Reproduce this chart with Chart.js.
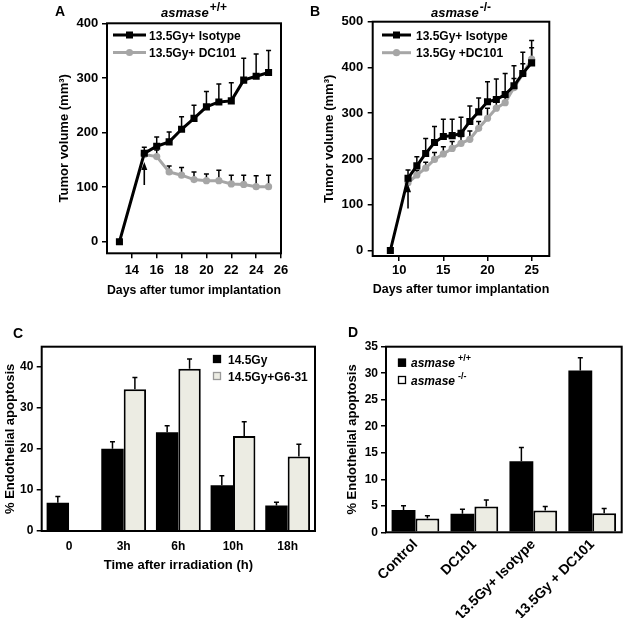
<!DOCTYPE html>
<html lang="en">
<head>
    <meta charset="UTF-8">
    <title>asmase - tumor volume and endothelial apoptosis</title>
    <script src="https://cdn.jsdelivr.net/npm/chart.js"></script>
    <style>
        body { margin: 0; background: #fff; }
        #wrap { position: relative; width: 625px; height: 618px; overflow: hidden; }
        .panel { position: absolute; }
    </style>
</head>
<body>
<div id="wrap">
    <div class="panel" style="left:0;top:0;width:310px;height:300px"><canvas id="chartA"></canvas></div>
    <div class="panel" style="left:310px;top:0;width:315px;height:300px"><canvas id="chartB"></canvas></div>
    <div class="panel" style="left:0;top:300px;width:320px;height:318px"><canvas id="chartC"></canvas></div>
    <div class="panel" style="left:320px;top:300px;width:305px;height:318px"><canvas id="chartD"></canvas></div>
</div>

<script>
    // ---- panel A : asmase +/+ ----
    const daysIsoA = [13, 15, 16, 17, 18, 19, 20, 21, 22, 23, 24, 25];
    const isotypeA = [0, 162, 175, 183, 206, 226, 247, 256, 258, 296, 303, 310];
    const isotypeErrA = [0, 11, 17, 18, 23, 24, 28, 33, 33, 40, 41, 40];
    const daysDcA = [15, 16, 17, 18, 19, 20, 21, 22, 23, 24, 25];
    const dc101A = [160, 156, 128, 122, 114, 112, 112, 106, 105, 101, 101];
    const dc101ErrA = [0, 12, 11, 14, 14, 12, 19, 16, 17, 20, 21];
    const xTicksA = [14, 16, 18, 20, 22, 24, 26];
    const yTicksA = [0, 100, 200, 300, 400];
    const arrowA = [15, 104, 146];

    // ---- panel B : asmase -/- ----
    const daysIsoB = [9, 11, 12, 13, 14, 15, 16, 17, 18, 19, 20, 21, 22, 23, 24, 25];
    const isotypeB = [0, 158, 185, 212, 236, 249, 251, 256, 282, 303, 325, 330, 341, 360, 387, 410];
    const isotypeErrB = [0, 18, 20, 33, 35, 38, 36, 35, 34, 30, 44, 45, 46, 44, 46, 49];
    const daysDcB = [11, 12, 13, 14, 15, 16, 17, 18, 19, 20, 21, 22, 23, 24, 25];
    const dc101B = [148, 165, 180, 199, 211, 223, 234, 243, 267, 289, 311, 323, 356, 386, 418];
    const dc101ErrB = [6, 10, 13, 15, 16, 15, 15, 18, 15, 22, 18, 12, 20, 22, 25];
    const xTicksB = [10, 15, 20, 25];
    const yTicksB = [0, 100, 200, 300, 400, 500];
    const arrowB = [11, 92, 145];

    // ---- panel C ----
    const timesC = ['0', '3h', '6h', '10h', '18h'];
    const gyC = [6.9, 20.1, 24.1, 11.2, 6.2];
    const gyErrC = [1.5, 1.7, 1.6, 2.3, 0.8];
    const g6C = [null, 34.6, 39.6, 23.2, 18.2];
    const g6ErrC = [null, 2.9, 2.4, 3.5, 3.0];
    const yTicksC = [0, 10, 20, 30, 40];

    // ---- panel D ----
    const groupsD = ['Control', 'DC101', '13.5Gy+ Isotype', '13.5Gy + DC101'];
    const wtD = [4.2, 3.5, 13.4, 30.5];
    const wtErrD = [0.8, 0.85, 2.6, 2.4];
    const koD = [2.6, 4.85, 4.1, 3.6];
    const koErrD = [0.5, 1.25, 0.75, 0.9];
    const yTicksD = [0, 5, 10, 15, 20, 25, 30, 35];

    const FONT = "'Liberation Sans', Arial, Helvetica, sans-serif";
    const GRAY = '#a6a6a6';
    const LIGHT = '#ecece3';
    Chart.defaults.font.family = FONT;
    Chart.defaults.color = '#000';

    const bold = (size, italic) => (italic ? 'italic ' : '') + 'bold ' + size + 'px ' + FONT;

    // text with superscripts, parts = [{t, size, italic, rise, gap}]
    function richText(ctx, x, y, parts, center) {
        let total = 0;
        parts.forEach(p => {
            ctx.font = bold(p.size, p.italic);
            p.w = ctx.measureText(p.t).width + (p.gap || 0);
            total += p.w;
        });
        let cx = center ? x - total / 2 : x;
        parts.forEach(p => {
            ctx.font = bold(p.size, p.italic);
            ctx.fillText(p.t, cx + (p.gap || 0), y - (p.rise || 0));
            cx += p.w;
        });
    }

    function decor(cfg) {
        return {
            id: 'decor',
            beforeDatasetsDraw(chart) {
                const ctx = chart.ctx, ys = chart.scales.y;
                ctx.save();
                ctx.strokeStyle = '#000';
                ctx.lineWidth = 1.5;
                (cfg.errors || []).forEach((errs, i) => {
                    const meta = chart.getDatasetMeta(i);
                    const vals = chart.data.datasets[i].data;
                    meta.data.forEach((el, j) => {
                        const e = errs[j];
                        const v = vals[j] !== null && typeof vals[j] === 'object' ? vals[j].y : vals[j];
                        if (!e || v == null) return;
                        const top = ys.getPixelForValue(v + e);
                        ctx.beginPath();
                        ctx.moveTo(el.x, el.y);
                        ctx.lineTo(el.x, top);
                        ctx.moveTo(el.x - cfg.cap, top);
                        ctx.lineTo(el.x + cfg.cap, top);
                        ctx.stroke();
                    });
                });
                ctx.restore();
            },
            afterDatasetsDraw(chart) {
                const ctx = chart.ctx, a = chart.chartArea;
                ctx.save();
                ctx.strokeStyle = '#000';
                ctx.lineWidth = 2;
                ctx.strokeRect(a.left, a.top, a.right - a.left, a.bottom - a.top);
                if (cfg.arrow) {
                    const ax = chart.scales.x.getPixelForValue(cfg.arrow[0]);
                    const y1 = chart.scales.y.getPixelForValue(cfg.arrow[1]);
                    const y2 = chart.scales.y.getPixelForValue(cfg.arrow[2]);
                    ctx.lineWidth = 1.6;
                    ctx.beginPath();
                    ctx.moveTo(ax, y1);
                    ctx.lineTo(ax, y2 + 5);
                    ctx.stroke();
                    ctx.fillStyle = '#000';
                    ctx.beginPath();
                    ctx.moveTo(ax, y2);
                    ctx.lineTo(ax - 3, y2 + 8);
                    ctx.lineTo(ax + 3, y2 + 8);
                    ctx.closePath();
                    ctx.fill();
                }
                ctx.restore();
            },
            afterDraw(chart) {
                const ctx = chart.ctx, a = chart.chartArea;
                ctx.save();
                ctx.fillStyle = '#000';
                ctx.textBaseline = 'alphabetic';
                if (cfg.letter) {
                    ctx.font = bold(14);
                    ctx.fillText(cfg.letter[0], cfg.letter[1], cfg.letter[2]);
                }
                if (cfg.title) {
                    richText(ctx, (a.left + a.right) / 2, cfg.titleY, cfg.title, true);
                }
                (cfg.legend || []).forEach(it => {
                    if (it.kind === 'line') {
                        ctx.strokeStyle = it.color;
                        ctx.fillStyle = it.color;
                        ctx.lineWidth = 3;
                        ctx.beginPath();
                        ctx.moveTo(it.x1, it.y);
                        ctx.lineTo(it.x2, it.y);
                        ctx.stroke();
                        const m = (it.x1 + it.x2) / 2;
                        ctx.beginPath();
                        if (it.marker === 'rect') ctx.rect(m - 3.5, it.y - 3.5, 7, 7);
                        else ctx.arc(m, it.y, 3.6, 0, Math.PI * 2);
                        ctx.fill();
                    } else {
                        ctx.fillStyle = it.fill;
                        ctx.fillRect(it.x1, it.y - 4, 8, 8);
                        ctx.strokeStyle = it.stroke;
                        ctx.lineWidth = 1.3;
                        ctx.strokeRect(it.x1 + 0.5, it.y - 3.5, 7, 7);
                    }
                    ctx.fillStyle = '#000';
                    richText(ctx, it.tx, it.y + 4.5, it.text, false);
                });
                ctx.restore();
            }
        };
    }

    const tickGrid = { drawOnChartArea: false, drawTicks: true, tickLength: 5, color: '#000', lineWidth: 1.5 };
    const fixTicks = list => (s => { s.ticks = list.map(v => ({ value: v })); });

    function lineChart(id, c) {
        return new Chart(document.getElementById(id), {
            type: 'line',
            data: {
                datasets: [{
                    data: c.isoX.map((d, i) => ({ x: d, y: c.iso[i] })),
                    borderColor: '#000', backgroundColor: '#000', borderWidth: 3,
                    pointStyle: 'rect', pointRadius: 5, pointBorderWidth: 0, tension: 0
                }, {
                    data: c.dcX.map((d, i) => ({ x: d, y: c.dc[i] })),
                    borderColor: GRAY, backgroundColor: GRAY, borderWidth: 3,
                    pointStyle: 'circle', pointRadius: 3.6, pointBorderWidth: 0, tension: 0
                }]
            },
            options: {
                responsive: true, maintainAspectRatio: false, animation: false,
                layout: { padding: c.pad },
                plugins: { legend: { display: false }, tooltip: { enabled: false } },
                scales: {
                    x: {
                        type: 'linear', min: c.xMin, max: c.xMax,
                        afterBuildTicks: fixTicks(c.xTicks),
                        afterFit: s => { s.height = c.xH; },
                        grid: tickGrid, border: { display: false },
                        ticks: { padding: c.xPad, maxRotation: 0, font: { size: 13, weight: 'bold' } },
                        title: { display: true, text: 'Days after tumor implantation', padding: 0, font: { size: 13, weight: 'bold' } }
                    },
                    y: {
                        min: c.yMin, max: c.yMax,
                        afterBuildTicks: fixTicks(c.yTicks),
                        afterFit: s => { s.width = c.yW; },
                        grid: tickGrid, border: { display: false },
                        ticks: { padding: c.yPad, font: { size: 13, weight: 'bold' } },
                        title: { display: true, text: 'Tumor volume (mm³)', padding: 0, font: { size: 13, weight: 'bold' } }
                    }
                }
            },
            plugins: [decor(c.decor)]
        });
    }

    function barChart(id, c) {
        return new Chart(document.getElementById(id), {
            type: 'bar',
            data: {
                labels: c.labels,
                datasets: [{
                    data: c.dark, backgroundColor: '#000', borderWidth: 0,
                    barPercentage: 1, categoryPercentage: c.catPct
                }, {
                    data: c.light, backgroundColor: LIGHT, borderColor: '#000', borderWidth: 2,
                    barPercentage: 1, categoryPercentage: c.catPct
                }]
            },
            options: {
                responsive: true, maintainAspectRatio: false, animation: false,
                layout: { padding: c.pad },
                plugins: { legend: { display: false }, tooltip: { enabled: false } },
                scales: {
                    x: {
                        afterFit: s => { s.height = c.xH; },
                        grid: { display: false, drawTicks: false }, border: { display: false },
                        ticks: { padding: c.xPad, autoSkip: false, minRotation: c.rot, maxRotation: c.rot, font: { size: c.xFont, weight: 'bold' } },
                        title: { display: !!c.xTitle, text: c.xTitle || '', padding: 0, font: { size: 13, weight: 'bold' } }
                    },
                    y: {
                        min: 0, max: c.yMax,
                        afterBuildTicks: fixTicks(c.yTicks),
                        afterFit: s => { s.width = c.yW; },
                        grid: tickGrid, border: { display: false },
                        ticks: { padding: c.yPad, font: { size: 12, weight: 'bold' } },
                        title: { display: true, text: '% Endothelial apoptosis', padding: 0, font: { size: 13, weight: 'bold' } }
                    }
                }
            },
            plugins: [decor(c.decor)]
        });
    }

    lineChart('chartA', {
        isoX: daysIsoA, iso: isotypeA, dcX: daysDcA, dc: dc101A,
        xMin: 12, xMax: 26, xTicks: xTicksA, yMin: -21, yMax: 400, yTicks: yTicksA,
        pad: { left: 56.2, top: 23.3, right: 29, bottom: 2 },
        xH: 44.7, yW: 50.8, xPad: 4.4, yPad: 3.7,
        decor: {
            errors: [isotypeErrA, dc101ErrA], cap: 2.5, arrow: arrowA,
            letter: ['A', 55, 16], titleY: 17,
            title: [{ t: 'asmase', size: 13, italic: true }, { t: '+/+', size: 12, rise: 6, gap: 1 }],
            legend: [
                { kind: 'line', color: '#000', marker: 'rect', x1: 113, x2: 146, y: 35, tx: 149,
                  text: [{ t: '13.5Gy+ Isotype', size: 12 }] },
                { kind: 'line', color: GRAY, marker: 'circle', x1: 113, x2: 146, y: 52.5, tx: 149,
                  text: [{ t: '13.5Gy+ DC101', size: 12 }] }
            ]
        }
    });

    lineChart('chartB', {
        isoX: daysIsoB, iso: isotypeB, dcX: daysDcB, dc: dc101B,
        xMin: 7, xMax: 27, xTicks: xTicksB, yMin: -12, yMax: 500, yTicks: yTicksB,
        pad: { left: 11.2, top: 21.7, right: 75.7, bottom: 3.2 },
        xH: 40.8, yW: 51.5, xPad: 2, yPad: 4.4,
        decor: {
            errors: [isotypeErrB, dc101ErrB], cap: 2.5, arrow: arrowB,
            letter: ['B', 0, 16], titleY: 17,
            title: [{ t: 'asmase', size: 13, italic: true }, { t: '-/-', size: 12, rise: 6, gap: 1 }],
            legend: [
                { kind: 'line', color: '#000', marker: 'rect', x1: 72, x2: 101, y: 35, tx: 106,
                  text: [{ t: '13.5Gy+ Isotype', size: 12 }] },
                { kind: 'line', color: GRAY, marker: 'circle', x1: 72, x2: 101, y: 52.7, tx: 106,
                  text: [{ t: '13.5Gy +DC101', size: 12 }] }
            ]
        }
    });

    barChart('chartC', {
        labels: timesC, dark: gyC, light: g6C, catPct: 0.82, rot: 0, xFont: 12,
        xTitle: 'Time after irradiation (h)', yMax: 45, yTicks: yTicksC,
        pad: { left: 2.2, top: 46.7, right: 5, bottom: 45.2 },
        xH: 41.8, yW: 39.5, xPad: 8.5, yPad: 3.4,
        decor: {
            errors: [gyErrC, g6ErrC], cap: 2.5,
            letter: ['C', 13, 38],
            legend: [
                { kind: 'box', fill: '#000', stroke: '#000', x1: 213, y: 59, tx: 228,
                  text: [{ t: '14.5Gy', size: 12 }] },
                { kind: 'box', fill: LIGHT, stroke: '#999', x1: 213, y: 76, tx: 228,
                  text: [{ t: '14.5Gy+G6-31', size: 12 }] }
            ]
        }
    });

    barChart('chartD', {
        labels: groupsD, dark: wtD, light: koD, catPct: 0.81, rot: 45, xFont: 14,
        xTitle: null, yMax: 35, yTicks: yTicksD,
        pad: { left: 24.2, top: 46.7, right: 3.3, bottom: 0 },
        xH: 85.7, yW: 41.8, xPad: 4, yPad: 3,
        decor: {
            errors: [wtErrD, koErrD], cap: 2.5,
            letter: ['D', 28, 37],
            legend: [
                { kind: 'box', fill: '#000', stroke: '#000', x1: 78, y: 62.7, tx: 91,
                  text: [{ t: 'asmase', size: 12, italic: true }, { t: '+/+', size: 9, rise: 6, gap: 3 }] },
                { kind: 'box', fill: '#fff', stroke: '#000', x1: 78, y: 80, tx: 91,
                  text: [{ t: 'asmase', size: 12, italic: true }, { t: '-/-', size: 9, rise: 6, gap: 3 }] }
            ]
        }
    });
</script>
</body>
</html>
